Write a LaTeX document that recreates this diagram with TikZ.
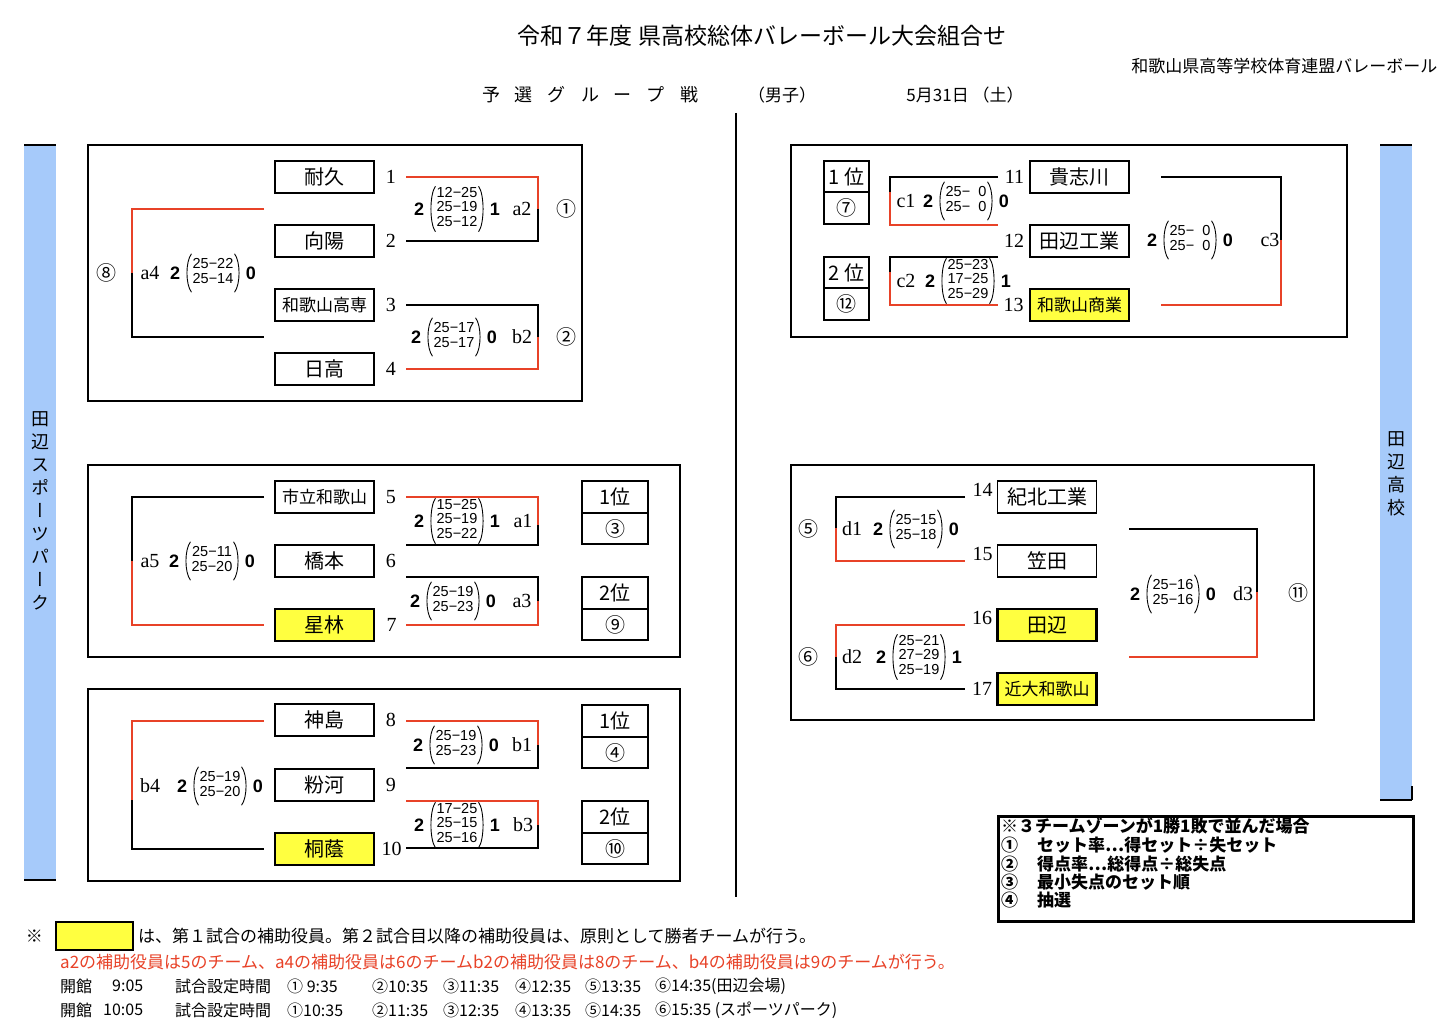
\documentclass[tikz,border=0pt]{standalone}
\usepackage{fontspec}
\setmainfont{Liberation Serif}
\setsansfont{Liberation Sans}
\newfontfamily\jp{Noto Sans CJK JP}
\newfontfamily\jpv[RawFeature=+vert]{Noto Sans CJK JP}
\usetikzlibrary{positioning,calc}
\definecolor{brkred}{RGB}{232,66,40}
\definecolor{helperyellow}{RGB}{255,255,64}
\definecolor{courtblue}{RGB}{166,202,250}
\newcommand{\fsz}[1]{\fontsize{#1}{#1}\selectfont}
% score block: id, x, y, winner sets, set scores, loser sets
\newcommand{\matchscore}[6]{%
  \node[sets] (s#1) at (#2,#3) {\begin{tabular}{@{}c@{}}#5\end{tabular}};
  \draw[paren] ($(s#1.north west)+(-1,-1)$) .. controls ($(s#1.north west)+(-7,7)$) and ($(s#1.south west)+(-7,-7)$) .. ($(s#1.south west)+(-1,1)$);
  \draw[paren] ($(s#1.north east)+(1,-1)$) .. controls ($(s#1.north east)+(7,7)$) and ($(s#1.south east)+(7,-7)$) .. ($(s#1.south east)+(1,1)$);
  \node[setnum, left=12pt of s#1] (sw#1) {#4};
  \node[setnum, right=12pt of s#1] (sl#1) {#6};}
% bracket: name, x open end, x vertical, y top, y bottom, y split
\newcommand{\brkT}[6]{%
  \coordinate (#1-s) at (#2,#4); \coordinate (#1-e) at (#2,#5);
  \coordinate (#1-m) at (#3,#6);
  \draw[redbrk] (#1-s) -| (#1-m);
  \draw[blackbrk] (#1-m) |- (#1-e);}
\newcommand{\brkB}[6]{%
  \coordinate (#1-s) at (#2,#4); \coordinate (#1-e) at (#2,#5);
  \coordinate (#1-m) at (#3,#6);
  \draw[blackbrk] (#1-s) -| (#1-m);
  \draw[redbrk] (#1-m) |- (#1-e);}
\tikzset{
  groupframe/.style = {line width=2.5pt},
  team/.style   = {draw, line width=1.3pt, minimum width=99pt, minimum height=32pt,
                   inner sep=0pt, font=\jp\fsz{20}},
  longteam/.style = {team, font=\jp\fsz{17}},
  helper/.style = {fill=helperyellow, line width=2.6pt},
  num/.style    = {inner sep=0pt, font=\rmfamily\fsz{20}},
  mlabel/.style = {inner sep=0pt, font=\rmfamily\fsz{20}},
  circ/.style   = {inner sep=0pt, font=\jp\fsz{20}},
  sets/.style   = {inner sep=0pt, minimum height=36pt, font=\sffamily\fontsize{14.5}{14}\selectfont},
  setnum/.style = {inner sep=0pt, font=\sffamily\bfseries\fsz{18}},
  paren/.style  = {line width=0.9pt},
  rank/.style   = {draw, line width=2pt, minimum width=66pt, minimum height=31.5pt,
                   inner sep=0pt, outer sep=0pt, font=\jp\fsz{20}},
  smallrank/.style = {rank, minimum width=45pt},
  redbrk/.style = {draw=brkred, line width=2.4pt},
  blackbrk/.style = {draw=black, line width=2pt},
  vtext/.style  = {align=center, inner sep=0pt, font=\jpv\fontsize{18}{23}\selectfont},
  note/.style   = {inner sep=0pt, anchor=west, font=\jp\fsz{17}},
  timetxt/.style = {inner sep=0pt, anchor=west, font=\jp\fsz{16}},
  legendtxt/.style = {inner sep=0pt, anchor=west, font=\jp\bfseries\fsz{17}}
}
\begin{document}
\begin{tikzpicture}[x=1pt,y=-1pt]
  \useasboundingbox (0,0) rectangle (1443,1032);
  \fill[white] (0,0) rectangle (1443,1032);
  % headings
  \node[font=\jp\fsz{23}] (title) at (762,36) {令和７年度 県高校総体バレーボール大会組合せ};
  \node[font=\jp\fsz{17}, anchor=east] (org) at (1441,66) {和歌山県高等学校体育連盟バレーボール};
  \node[font=\jp\fsz{18}] (stage) at (590,95) {予\hspace{15pt}選\hspace{15pt}グ\hspace{15pt}ル\hspace{15pt}ー\hspace{15pt}プ\hspace{15pt}戦};
  \node[font=\jp\fsz{17}] (sex) at (782,95) {（男子）};
  \node[font=\jp\fsz{17}] (date) at (965,95) {5月31日 （土）};
  % venues
  \fill[courtblue] (24,146) rectangle (56,880);
  \draw[line width=1.5pt] (24,145) -- (56,145) (24,880) -- (56,880);
  \node[vtext] (venueL) at (40,511) {田\\辺\\ス\\ポ\\ー\\ツ\\パ\\ー\\ク};
  \fill[courtblue] (1380,146) rectangle (1412,800);
  \draw[line width=1.5pt] (1380,145) -- (1412,145) (1380,800) -- (1412,800) (1412,786) -- (1412,800);
  \node[vtext] (venueR) at (1396,474) {田\\辺\\高\\校};
  \draw[line width=1.2pt] (736,113) -- (736,897);
  % group frames
  \draw[groupframe] (88,145) rectangle (582,401);
  \draw[groupframe] (88,465) rectangle (680,657);
  \draw[groupframe] (88,689) rectangle (680,881);
  \draw[groupframe] (791,145) rectangle (1347,337);
  \draw[groupframe] (791,465) rectangle (1314,720);
  % teams, left side
  \node[team] (t1) at (324.5,177) {耐久};
  \node[team] (t2) at (324.5,241) {向陽};
  \node[longteam] (t3) at (324.5,305) {和歌山高専};
  \node[team] (t4) at (324.5,369) {日高};
  \node[longteam] (t5) at (324.5,497) {市立和歌山};
  \node[team] (t6) at (324.5,561) {橋本};
  \node[team,helper] (t7) at (324.5,625) {星林};
  \node[team] (t8) at (324.5,720) {神島};
  \node[team] (t9) at (324.5,785) {粉河};
  \node[team,helper] (t10) at (324.5,849) {桐蔭};
  \foreach \i in {1,...,9} \node[num, right=11pt of t\i] (n\i) {\i};
  \node[num, right=6pt of t10] (n10) {10};
  % teams, right side
  \node[team] (t11) at (1079.5,177) {貴志川};
  \node[team] (t12) at (1079.5,241) {田辺工業};
  \node[longteam,helper] (t13) at (1079.5,305) {和歌山商業};
  \node[team] (t14) at (1047,497) {紀北工業};
  \node[team] (t15) at (1047,561) {笠田};
  \node[team,helper] (t16) at (1047,625) {田辺};
  \node[longteam,helper] (t17) at (1047,689) {近大和歌山};
  \foreach \i in {11,12,13} \node[num, left=5pt of t\i] (n\i) {\i};
  \foreach \i in {14,15,16} \node[num, left=4pt of t\i, yshift=7pt] (n\i) {\i};
  \node[num, left=4pt of t17] (n17) {17};
  % brackets
  \brkT{a2}{406}{538}{177}{241}{209}
  \brkB{b2}{406}{538}{305}{369}{337}
  \brkT{a4}{264}{132}{209}{337}{273}
  \brkT{a1}{406}{538}{497}{545}{525}
  \brkB{a3}{406}{538}{577}{625}{601}
  \brkB{a5}{264}{132}{497}{625}{561}
  \brkT{b1}{406}{538}{721}{768}{745}
  \brkT{b3}{406}{538}{801}{848}{825}
  \brkT{b4}{264}{132}{721}{849}{800}
  \brkB{c1}{998}{890}{177}{225}{192}
  \brkB{c2}{998}{890}{257}{305}{272}
  \brkB{c3}{1161}{1281}{177}{305}{240}
  \brkB{d1}{965}{836}{497}{561}{528}
  \brkT{d2}{965}{836}{625}{689}{657}
  \brkB{d3}{1129}{1257}{529}{657}{592}
  % scores
  \matchscore{a2}{457}{209}{2}{12−25\\25−19\\25−12}{1}
  \matchscore{b2}{454}{337}{2}{25−17\\25−17}{0}
  \matchscore{a4}{213}{273}{2}{25−22\\25−14}{0}
  \matchscore{a1}{457}{521}{2}{15−25\\25−19\\25−22}{1}
  \matchscore{a3}{453}{601}{2}{25−19\\25−23}{0}
  \matchscore{a5}{212}{561}{2}{25−11\\25−20}{0}
  \matchscore{b1}{456}{745}{2}{25−19\\25−23}{0}
  \matchscore{b3}{457}{825}{2}{17−25\\25−15\\25−16}{1}
  \matchscore{b4}{220}{786}{2}{25−19\\25−20}{0}
  \matchscore{c1}{966}{201}{2}{25−\hphantom{2}0\\25−\hphantom{2}0}{0}
  \matchscore{c2}{968}{281}{2}{25−23\\17−25\\25−29}{1}
  \matchscore{c3}{1190}{240}{2}{25−\hphantom{2}0\\25−\hphantom{2}0}{0}
  \matchscore{d1}{916}{529}{2}{25−15\\25−18}{0}
  \matchscore{d2}{919}{657}{2}{25−21\\27−29\\25−19}{1}
  \matchscore{d3}{1173}{594}{2}{25−16\\25−16}{0}
  % match labels
  \node[mlabel] (la2) at (522,209) {a2};
  \node[mlabel] (lb2) at (522,337) {b2};
  \node[mlabel] (la4) at (150,273) {a4};
  \node[mlabel] (la1) at (523,521) {a1};
  \node[mlabel] (la3) at (522,601) {a3};
  \node[mlabel] (la5) at (150,561) {a5};
  \node[mlabel] (lb1) at (522,745) {b1};
  \node[mlabel] (lb3) at (523,825) {b3};
  \node[mlabel] (lb4) at (150,786) {b4};
  \node[mlabel] (lc1) at (906,201) {c1};
  \node[mlabel] (lc2) at (906,281) {c2};
  \node[mlabel] (lc3) at (1270,240) {c3};
  \node[mlabel] (ld1) at (852,529) {d1};
  \node[mlabel] (ld2) at (852,657) {d2};
  \node[mlabel] (ld3) at (1243,594) {d3};
  % match order
  \node[circ] (o1) at (566,209) {①};
  \node[circ] (o2) at (566,337) {②};
  \node[circ] (o8) at (106,273) {⑧};
  \node[circ] (o5) at (808,529) {⑤};
  \node[circ] (o6) at (808,657) {⑥};
  \node[circ] (o11) at (1298,593) {⑪};
  % ranks
  \node[rank] (ra1) at (615,497) {1位};
  \node[rank, below=0pt of ra1] (ra1n) {③};
  \node[rank] (ra2) at (615,593) {2位};
  \node[rank, below=0pt of ra2] (ra2n) {⑨};
  \node[rank] (rb1) at (615,721) {1位};
  \node[rank, below=0pt of rb1] (rb1n) {④};
  \node[rank] (rb2) at (615,817) {2位};
  \node[rank, below=0pt of rb2] (rb2n) {⑩};
  \node[smallrank] (rc1) at (846.5,176.5) {1 位};
  \node[smallrank, below=0pt of rc1] (rc1n) {⑦};
  \node[smallrank] (rc2) at (846.5,272.5) {2 位};
  \node[smallrank, below=0pt of rc2] (rc2n) {⑫};
  % tie-break rules
  \draw[line width=3pt] (998,816) rectangle (1413,921);
  \node[legendtxt] (lg0) at (1001,826) {※３チームゾーンが1勝1敗で並んだ場合};
  \node[legendtxt] (lg1) at (1001,845) {\makebox[36pt][l]{①}セット率…得セット÷失セット};
  \node[legendtxt] (lg2) at (1001,864) {\makebox[36pt][l]{②}得点率…総得点÷総失点};
  \node[legendtxt] (lg3) at (1001,882) {\makebox[36pt][l]{③}最小失点のセット順};
  \node[legendtxt] (lg4) at (1001,900) {\makebox[36pt][l]{④}抽選};
  % notes
  \node[draw, fill=helperyellow, line width=2pt, minimum width=77pt, minimum height=28pt] (sample) at (94.5,936) {};
  \node[note, anchor=east, left=12pt of sample] (kome) {※};
  \node[note, right=4pt of sample] (note1) {は、第１試合の補助役員。第２試合目以降の補助役員は、原則として勝者チームが行う。};
  \node[note, text=brkred] (note2) at (60,962) {a2の補助役員は5のチーム、a4の補助役員は6のチームb2の補助役員は8のチーム、b4の補助役員は9のチームが行う。};
  \foreach \x/\t [count=\i] in {60/開館, 112/9:05, 175/試合設定時間, 287/① 9:35, 372/②10:35,
      443/③11:35, 515/④12:35, 585/⑤13:35, 655/⑥14:35(田辺会場)}
    \node[timetxt] (ta\i) at (\x,986) {\t};
  \foreach \x/\t [count=\i] in {60/開館, 103/10:05, 175/試合設定時間, 287/①10:35, 372/②11:35,
      443/③12:35, 515/④13:35, 585/⑤14:35, 655/⑥15:35 (スポーツパーク)}
    \node[timetxt] (tb\i) at (\x,1010) {\t};
\end{tikzpicture}
\end{document}
